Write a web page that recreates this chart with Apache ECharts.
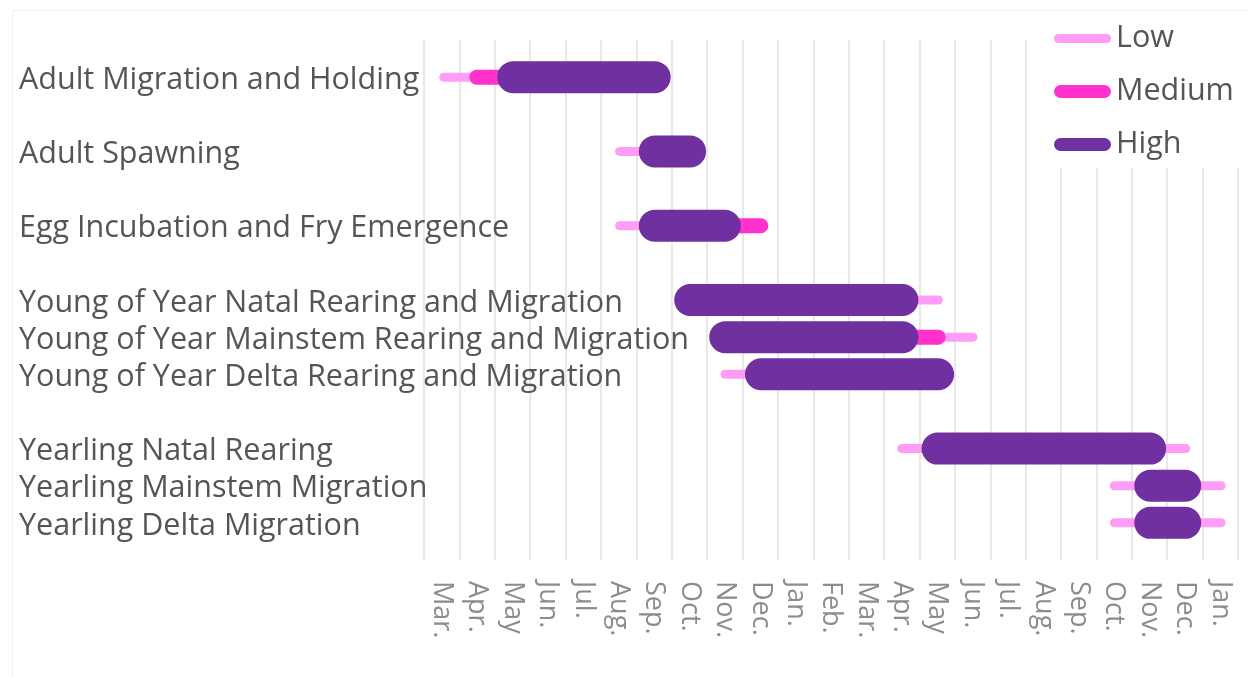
<!DOCTYPE html>
<html>
<head>
<meta charset="utf-8">
<title>Life stage timing</title>
<script src="https://cdn.jsdelivr.net/npm/echarts@6/dist/echarts.min.js"></script>
<style>
  html, body { margin: 0; padding: 0; background: #fff; }
  #chart { width: 1248px; height: 677px; }
</style>
</head>
<body>
<div id="chart"></div>
<script>
const months = ["Mar.", "Apr.", "May", "Jun.", "Jul.", "Aug.", "Sep.", "Oct.", "Nov.", "Dec.",
  "Jan.", "Feb.", "Mar.", "Apr.", "May", "Jun.", "Jul.", "Aug.", "Sep.", "Oct.", "Nov.", "Dec.", "Jan."];

const stages = [
  "Adult Migration and Holding",
  "Adult Spawning",
  "Egg Incubation and Fry Emergence",
  "Young of Year Natal Rearing and Migration",
  "Young of Year Mainstem Rearing and Migration",
  "Young of Year Delta Rearing and Migration",
  "Yearling Natal Rearing",
  "Yearling Mainstem Migration",
  "Yearling Delta Migration"
];

// row of each stage on the y axis (gaps split the groups)
const stageRows = [0, 2, 4, 6, 7, 8, 10, 11, 12];

// [start, end, stage index], in months counted from the first Mar.
const lowPeriods = [
  [0.43, 2.5, 0], [5.4, 6.5, 1], [5.4, 6.5, 2], [13.5, 14.66, 3], [13.5, 15.64, 4],
  [8.38, 9.5, 5], [13.37, 14.5, 6], [20.5, 21.65, 6], [19.38, 20.5, 7], [21.5, 22.65, 7],
  [19.38, 20.5, 8], [21.5, 22.65, 8]
];
const mediumPeriods = [
  [1.28, 2.5, 0], [8.5, 9.73, 2], [13.5, 14.74, 4]
];
const highPeriods = [
  [2.07, 6.97, 0], [6.07, 7.97, 1], [6.07, 8.95, 2], [7.07, 13.97, 3], [8.06, 13.97, 4],
  [9.07, 14.98, 5], [14.06, 20.97, 6], [20.07, 21.96, 7], [20.07, 21.96, 8]
];

const fontFamily = "'Open Sans', 'Noto Sans', sans-serif";

function toData(periods) {
  return periods.map(p => [p[0], p[1], stageRows[p[2]]]);
}

function barRenderer(thickness) {
  return function (params, api) {
    const a = api.coord([api.value(0), api.value(2)]);
    const b = api.coord([api.value(1), api.value(2)]);
    return {
      type: "rect",
      shape: { x: a[0], y: a[1] - thickness / 2, width: b[0] - a[0], height: thickness, r: thickness / 2 },
      style: { fill: api.visual("color") }
    };
  };
}

function legendFor(name, top, h) {
  const r = h / 2;
  return {
    data: [name],
    left: 1054,
    top: top,
    padding: 0,
    itemWidth: 57,
    itemHeight: h,
    icon: `path://M${r},0 L${57 - r},0 A${r},${r} 0 0 1 ${57 - r},${h} L${r},${h} A${r},${r} 0 0 1 ${r},0 Z`,
    textStyle: { fontSize: 30.5, lineHeight: 30, color: "#555555", fontFamily: fontFamily }
  };
}

const option = {
  animation: false,
  backgroundColor: "#ffffff",
  grid: {
    left: 424,
    right: 10,
    top: 40,
    bottom: 117,
    containLabel: false,
    outerBoundsMode: "none"
  },
  graphic: [
    {
      type: "rect",
      z: 0,
      shape: { x: 12.5, y: 10.5, width: 1260, height: 700 },
      style: { fill: null, stroke: "#efefef", lineWidth: 1 }
    },
    {
      type: "rect",
      z: 3,
      shape: { x: 1044, y: 14, width: 204, height: 154 },
      style: { fill: "#ffffff" }
    }
  ],
  legend: [
    legendFor("Low", 23, 9),
    legendFor("Medium", 76, 13),
    legendFor("High", 129, 13)
  ],
  xAxis: [
    {
      type: "value",
      min: 0,
      max: 23,
      interval: 1,
      axisLine: { show: false },
      axisTick: { show: false },
      axisLabel: { show: false },
      splitLine: { show: true, lineStyle: { color: "#e8e8e8", width: 2 } }
    },
    {
      type: "category",
      position: "bottom",
      data: months,
      boundaryGap: true,
      axisLine: { show: false },
      axisTick: { show: false },
      splitLine: { show: false },
      axisLabel: {
        interval: 0,
        rotate: -90,
        margin: 21,
        fontSize: 27,
        color: "#8c8c8c",
        fontFamily: fontFamily
      }
    }
  ],
  yAxis: {
    type: "value",
    inverse: true,
    min: -1,
    max: 13,
    interval: 1,
    axisLine: { show: false },
    axisTick: { show: false },
    splitLine: { show: false },
    axisLabel: {
      align: "left",
      margin: 405,
      fontSize: 30.5,
      color: "#555555",
      fontFamily: fontFamily,
      formatter: function (value) {
        const i = stageRows.indexOf(value);
        return i >= 0 ? "{s|" + stages[i] + "}" : "";
      },
      rich: {
        s: {
          fontSize: 30.5,
          color: "#555555",
          fontFamily: fontFamily,
          padding: [6, 0, 0, 0]
        }
      }
    }
  },
  series: [
    {
      name: "Low",
      type: "custom",
      z: 2,
      itemStyle: { color: "#ff9cf6" },
      renderItem: barRenderer(9),
      encode: { x: [0, 1], y: 2 },
      data: toData(lowPeriods)
    },
    {
      name: "Medium",
      type: "custom",
      z: 3,
      itemStyle: { color: "#ff33cc" },
      renderItem: barRenderer(15),
      encode: { x: [0, 1], y: 2 },
      data: toData(mediumPeriods)
    },
    {
      name: "High",
      type: "custom",
      z: 4,
      itemStyle: { color: "#7030a0" },
      renderItem: barRenderer(32),
      encode: { x: [0, 1], y: 2 },
      data: toData(highPeriods)
    }
  ]
};

const myChart = echarts.init(document.getElementById("chart"));
myChart.setOption(option);
</script>
</body>
</html>
